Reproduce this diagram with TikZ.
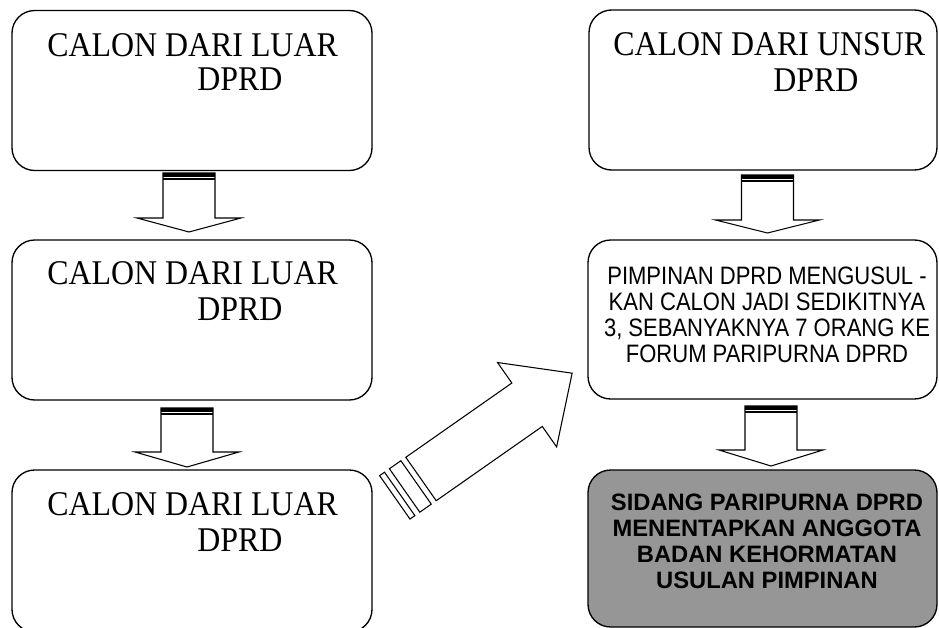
\documentclass[tikz,border=0pt]{standalone}
\usepackage{fontspec}
\setmainfont{Liberation Serif}
\newfontfamily\ttlserif[FakeStretch=0.92]{Liberation Serif}
\newfontfamily\narrowsans[FakeStretch=0.874]{Liberation Sans}
\newfontfamily\plainsans{Liberation Sans}
\usetikzlibrary{calc}
\definecolor{bk_grey}{RGB}{150, 150, 150}
\tikzstyle{wb}=[rectangle,rounded corners=17pt,fill=white,draw=black,
  line width=1pt,inner sep=0pt,minimum width=270pt,minimum height=120pt]
\tikzstyle{gb}=[wb,fill=bk_grey]
\tikzstyle{ttl}=[inner sep=0pt,font=\ttlserif\fontsize{26}{28}\selectfont]
\tikzstyle{nrw}=[inner sep=0pt,align=center,
  font=\narrowsans\fontsize{18.9}{19.5}\selectfont]
\tikzstyle{bld}=[inner sep=0pt,align=center,
  font=\plainsans\bfseries\fontsize{17.8}{19.5}\selectfont]
\tikzstyle{blk}=[draw=black,fill=white,line width=0.8pt,line join=miter]
\tikzstyle{none}=[]

\begin{document}
\begin{tikzpicture}[x=0.75pt, y=-0.75pt]
            \useasboundingbox (0, 0) rectangle (939, 628);
            \clip (0, 0) rectangle (939, 628);
            \node [style=wb] (0) at (192, 90.5) {};
            \node [style=ttl, anchor=base west] (1) at (47, 56) {CALON DARI LUAR};
            \node [style=ttl, anchor=base west] (2) at (197, 90) {DPRD};
            \node [style=wb] (3) at (192, 320) {};
            \node [style=ttl, anchor=base west] (4) at (47, 284) {CALON DARI LUAR};
            \node [style=ttl, anchor=base west] (5) at (197, 320) {DPRD};
            \node [style=wb, minimum height=121.5pt] (6) at (192, 551) {};
            \node [style=ttl, anchor=base west] (7) at (47, 515) {CALON DARI LUAR};
            \node [style=ttl, anchor=base west] (8) at (197, 551) {DPRD};
            \node [style=wb, minimum width=261pt] (9) at (763, 90) {};
            \node [style=ttl, anchor=base west] (10) at (613, 55) {CALON DARI UNSUR};
            \node [style=ttl, anchor=base west] (11) at (773, 91) {DPRD};
            \node [style=wb, minimum width=261.75pt, minimum height=119.25pt] (12) at (762.5, 319.5) {};
            \node [style=nrw, anchor=north] (13) at (767, 267) {PIMPINAN DPRD MENGUSUL -\\KAN CALON JADI SEDIKITNYA\\3, SEBANYAKNYA 7 ORANG KE\\FORUM PARIPURNA DPRD};
            \node [style=gb, minimum width=261.75pt, minimum height=117.75pt] (14) at (762.5, 548.5) {};
            \node [style=bld, anchor=north] (15) at (767, 494) {SIDANG PARIPURNA DPRD\\MENENTAPKAN ANGGOTA\\BADAN KEHORMATAN\\USULAN PIMPINAN};
            \coordinate (16) at (189, 173);
            \coordinate (17) at (187, 408);
            \coordinate (18) at (767.5, 175);
            \coordinate (19) at (771, 406);
            \draw [style=blk] (16) ++(-26, 0) -- ++(0, 45) -- ++(-26, 0) -- ++(52, 14) -- ++(52, -14) -- ++(-26, 0) -- ++(0, -45) -- cycle;
            \fill (16) ++(-26, 0) rectangle ++(52, 3.5);
            \draw [line width=0.8pt] ($(16)+(-26, 6)$) -- ++(52, 0);
            \draw [style=blk] (17) ++(-26, 0) -- ++(0, 44) -- ++(-26, 0) -- ++(52, 15) -- ++(52, -15) -- ++(-26, 0) -- ++(0, -44) -- cycle;
            \fill (17) ++(-26, 0) rectangle ++(52, 3.5);
            \draw [line width=0.8pt] ($(17)+(-26, 6)$) -- ++(52, 0);
            \draw [style=blk] (18) ++(-26, 0) -- ++(0, 45) -- ++(-26, 0) -- ++(52, 13) -- ++(52, -13) -- ++(-26, 0) -- ++(0, -45) -- cycle;
            \fill (18) ++(-26, 0) rectangle ++(52, 3.5);
            \draw [line width=0.8pt] ($(18)+(-26, 6)$) -- ++(52, 0);
            \draw [style=blk] (19) ++(-26, 0) -- ++(0, 44) -- ++(-26, 0) -- ++(52, 16) -- ++(52, -16) -- ++(-26, 0) -- ++(0, -44) -- cycle;
            \fill (19) ++(-26, 0) rectangle ++(52, 3.5);
            \draw [line width=0.8pt] ($(19)+(-26, 6)$) -- ++(52, 0);
            \begin{scope}[shift={(421, 479)}, rotate=35]
                \draw [style=blk] (0, -26.5) -- (129.5, -26.5) -- (129.5, -51.5) -- (184.5, 0) -- (129.5, 51.5) -- (129.5, 26.5) -- (0, 26.5) -- cycle;
                \draw [style=blk] (-20, -26.5) rectangle (-6, 26.5);
                \draw [style=blk] (-32, -26.5) rectangle (-26, 26.5);
            \end{scope}
    \end{tikzpicture}
\end{document}
